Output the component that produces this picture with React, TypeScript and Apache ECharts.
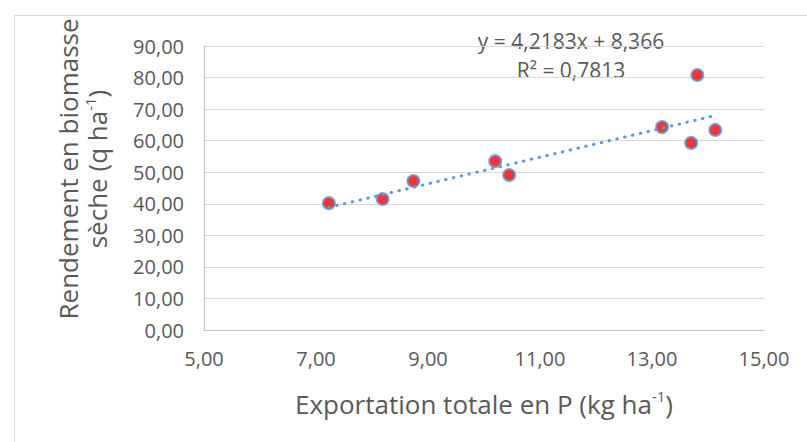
import React, { useEffect, useRef } from "react";
import * as echarts from "echarts";

const xValues = [7.23, 8.19, 8.74, 10.2, 10.45, 13.18, 13.7, 13.81, 14.13];
const yValues = [40.2, 41.5, 47.2, 53.5, 49.1, 64.3, 59.3, 80.8, 63.4];
const slope = 4.2183;
const intercept = 8.366;
const r2Text = "0,7813";
const eqText = "y = 4,2183x + 8,366";

const FONT = "Open Sans";
const TXT = "#595959";

export default function App() {
  const ref = useRef<HTMLDivElement>(null);
  useEffect(() => {
    document.body.style.margin = "0";
    if (!ref.current) return;
    const chart = echarts.init(ref.current, null, { renderer: "svg" });
    const pts = xValues.map((x, i) => [x, yValues[i]]);
    const xmin = Math.min(...xValues);
    const xmax = Math.max(...xValues);
    const trend = [
      [xmin, slope * xmin + intercept],
      [xmax, slope * xmax + intercept],
    ];
    const fmt = (v: number) => v.toFixed(2).replace(".", ",");
    chart.setOption({
      animation: false,
      backgroundColor: "#fff",
      grid: { left: 204, right: 43, top: 46, bottom: 112, containLabel: false },
      xAxis: {
        type: "value",
        min: 5,
        max: 15,
        interval: 2,
        axisLine: { show: true, lineStyle: { color: "#BFBFBF", width: 1 } },
        axisTick: { show: false },
        splitLine: { show: false },
        axisLabel: { color: TXT, fontFamily: FONT, fontSize: 20, margin: 18, formatter: fmt },
      },
      yAxis: {
        type: "value",
        min: 0,
        max: 90,
        interval: 10,
        axisLine: { show: true, lineStyle: { color: "#BFBFBF", width: 1 } },
        axisTick: { show: false },
        splitLine: { show: true, lineStyle: { color: "#D9D9D9", width: 1 } },
        axisLabel: { color: TXT, fontFamily: FONT, fontSize: 20, margin: 20, formatter: fmt },
      },
      series: [
        {
          type: "scatter",
          data: pts,
          symbol: "circle",
          symbolSize: 12,
          itemStyle: { color: "#FF0000", borderColor: "#5B9BD5", borderWidth: 2 },
          z: 2,
        },
        {
          type: "line",
          data: trend,
          symbol: "none",
          lineStyle: { color: "#5B9BD5", width: 3, type: [0.5, 7.5], cap: "round" },
          z: 3,
          silent: true,
        },
      ],
      graphic: [
        {
          type: "rect",
          shape: { x: 14.5, y: 15.5, width: 900, height: 600 },
          style: { fill: "none", stroke: "#D9D9D9", lineWidth: 1 },
          silent: true,
          z: -10,
        },
        {
          type: "text",
          x: 484,
          y: 404,
          style: {
            text: "{a|Exportation totale en P (kg ha}{s|-1}{a|)}",
            align: "center",
            verticalAlign: "middle",
            rich: {
              a: { fontFamily: FONT, fontSize: 26, fill: TXT, lineHeight: 32 },
              s: { fontFamily: FONT, fontSize: 15, fill: TXT, lineHeight: 32, verticalAlign: "top" },
            },
          },
        },
        {
          type: "text",
          x: 82,
          y: 169,
          rotation: Math.PI / 2,
          style: {
            text: "{a|Rendement en biomasse}\n{a|sèche (q ha}{s|-1}{a|)}",
            align: "center",
            verticalAlign: "middle",
            rich: {
              a: { fontFamily: FONT, fontSize: 26, fill: TXT, lineHeight: 29 },
              s: { fontFamily: FONT, fontSize: 15, fill: TXT, lineHeight: 29, verticalAlign: "top" },
            },
          },
        },
        {
          type: "text",
          x: 571,
          y: 41,
          style: { text: eqText, align: "center", verticalAlign: "middle", fontFamily: FONT, fontSize: 21, fill: TXT },
        },
        {
          type: "text",
          x: 571,
          y: 70,
          style: { text: "R² = " + r2Text, align: "center", verticalAlign: "middle", fontFamily: FONT, fontSize: 21, fill: TXT },
        },
      ],
    });
    return () => chart.dispose();
  }, []);
  return <div ref={ref} style={{ width: 807, height: 442 }} />;
}
